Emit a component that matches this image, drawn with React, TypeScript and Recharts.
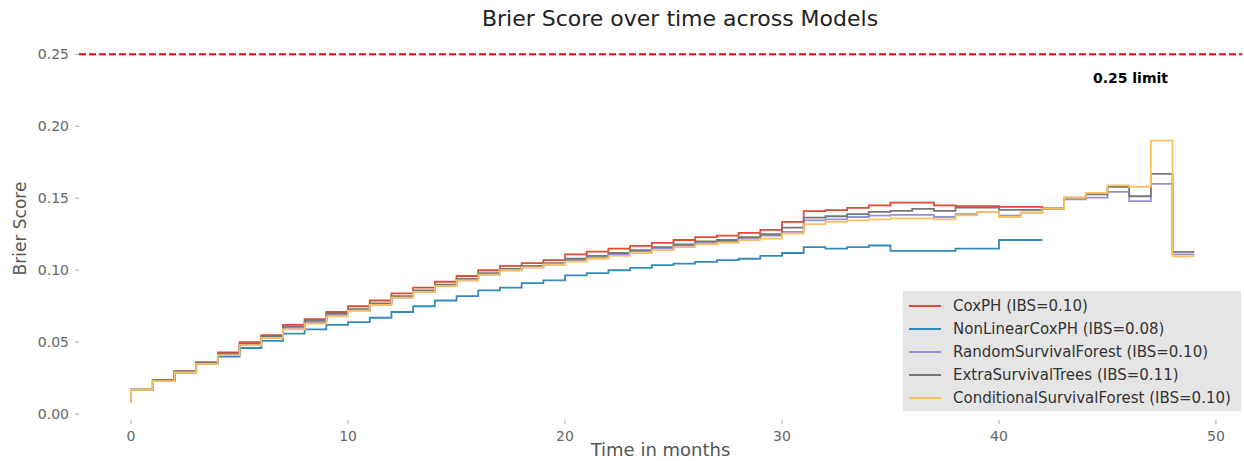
import React from "react";
import {
  Legend,
  Line,
  LineChart,
  ReferenceLine,
  XAxis,
  YAxis,
} from "recharts";

// month index, 0..49
const months = [
  0, 1, 2, 3, 4, 5, 6, 7, 8, 9, 10, 11, 12, 13, 14, 15, 16, 17, 18, 19, 20, 21,
  22, 23, 24, 25, 26, 27, 28, 29, 30, 31, 32, 33, 34, 35, 36, 37, 38, 39, 40,
  41, 42, 43, 44, 45, 46, 47, 48, 49,
];

const coxPH = [
  0.008, 0.017, 0.0236, 0.03, 0.036, 0.043, 0.05, 0.055, 0.062, 0.066,
  0.071, 0.075, 0.079, 0.084, 0.088, 0.092, 0.096, 0.1, 0.103, 0.105,
  0.107, 0.111, 0.113, 0.115, 0.117, 0.119, 0.121, 0.123, 0.124, 0.126,
  0.128, 0.1336, 0.141, 0.1417, 0.1433, 0.1451, 0.147, 0.147, 0.145, 0.1445,
  0.1445, 0.144, 0.144, 0.143, null, null, null, null, null, null,
];

const nonLinearCoxPH = [
  0.008, 0.017, 0.023, 0.029, 0.035, 0.04, 0.046, 0.051, 0.056, 0.059,
  0.062, 0.064, 0.067, 0.071, 0.075, 0.079, 0.082, 0.086, 0.088, 0.091,
  0.093, 0.0965, 0.098, 0.1, 0.1016, 0.1035, 0.1046, 0.1058, 0.107, 0.108,
  0.11, 0.112, 0.116, 0.115, 0.116, 0.1172, 0.1135, 0.1135, 0.1135, 0.115,
  0.115, 0.121, 0.121, null, null, null, null, null, null, null,
];

const randomSurvivalForest = [
  0.008, 0.017, 0.023, 0.029, 0.035, 0.041, 0.048, 0.053, 0.06, 0.064,
  0.069, 0.072, 0.076, 0.081, 0.085, 0.089, 0.093, 0.097, 0.1, 0.102,
  0.104, 0.107, 0.109, 0.111, 0.113, 0.115, 0.117, 0.119, 0.12, 0.122,
  0.124, 0.1266, 0.1347, 0.1354, 0.137, 0.138, 0.1385, 0.1385, 0.137, 0.139,
  0.1405, 0.138, 0.14, 0.1425, 0.1493, 0.1505, 0.1544, 0.148, 0.16, 0.111,
];

const extraSurvivalTrees = [
  0.008, 0.017, 0.0236, 0.03, 0.036, 0.042, 0.049, 0.054, 0.061, 0.065,
  0.07, 0.073, 0.077, 0.082, 0.086, 0.09, 0.094, 0.098, 0.101, 0.103,
  0.105, 0.108, 0.11, 0.112, 0.114, 0.116, 0.118, 0.12, 0.121, 0.123,
  0.125, 0.1296, 0.1366, 0.1375, 0.139, 0.1405, 0.1412, 0.1426, 0.1412, 0.1435,
  0.1435, 0.142, 0.142, 0.1428, 0.1505, 0.1528, 0.158, 0.1514, 0.167, 0.1127,
];

const conditionalSurvivalForest = [
  0.008, 0.017, 0.023, 0.029, 0.035, 0.041, 0.048, 0.053, 0.059, 0.063,
  0.068, 0.072, 0.076, 0.081, 0.085, 0.089, 0.093, 0.097, 0.1, 0.102,
  0.104, 0.106, 0.108, 0.11, 0.112, 0.114, 0.116, 0.118, 0.119, 0.121,
  0.122, 0.1255, 0.132, 0.1336, 0.1347, 0.1354, 0.136, 0.136, 0.1354, 0.1382,
  0.1405, 0.137, 0.14, 0.1428, 0.1505, 0.1537, 0.159, 0.158, 0.19, 0.1097,
];

const xTicks = [0, 10, 20, 30, 40, 50];
const yTicks = [0, 0.05, 0.1, 0.15, 0.2, 0.25];

const series = [
  { key: "cox", name: "CoxPH (IBS=0.10)", color: "#E24A33" },
  { key: "nlcox", name: "NonLinearCoxPH (IBS=0.08)", color: "#348ABD" },
  { key: "rsf", name: "RandomSurvivalForest (IBS=0.10)", color: "#988ED5" },
  { key: "est", name: "ExtraSurvivalTrees (IBS=0.11)", color: "#777777" },
  { key: "csf", name: "ConditionalSurvivalForest (IBS=0.10)", color: "#FBC15E" },
];

const rows = months.map((t, i) => ({
  t,
  cox: coxPH[i],
  nlcox: nonLinearCoxPH[i],
  rsf: randomSurvivalForest[i],
  est: extraSurvivalTrees[i],
  csf: conditionalSurvivalForest[i],
}));

const FONT = "'DejaVu Sans', sans-serif";

function LegendBox() {
  return (
    <div
      style={{
        background: "#e5e5e5",
        width: 338,
        height: 120,
        boxSizing: "border-box",
        padding: "3px 0 0 6px",
        fontFamily: FONT,
        fontSize: 15,
        color: "#333",
      }}
    >
      {series.map((s) => (
        <div
          key={s.key}
          style={{ display: "flex", alignItems: "center", height: 23 }}
        >
          <span
            style={{
              display: "inline-block",
              width: 32,
              height: 2,
              background: s.color,
              marginRight: 12,
            }}
          />
          <span style={{ whiteSpace: "nowrap" }}>{s.name}</span>
        </div>
      ))}
    </div>
  );
}

export default function App() {
  return (
    <div
      style={{
        position: "absolute",
        left: 0,
        top: 0,
        width: 1244,
        height: 461,
        background: "#fff",
        fontFamily: FONT,
      }}
    >
      <div
        style={{
          position: "absolute",
          left: 0,
          width: 1360,
          top: 6,
          textAlign: "center",
          fontSize: 22,
          color: "#222",
        }}
      >
        Brier Score over time across Models
      </div>
      <LineChart
        width={1244}
        height={461}
        data={rows}
        margin={{ top: 37, right: 2, left: 0, bottom: 16 }}
      >
        <XAxis
          dataKey="t"
          type="number"
          domain={[-2.4, 51.2]}
          ticks={xTicks}
          allowDataOverflow
          axisLine={false}
          tickSize={4}
          tickMargin={7}
          tickLine={{ stroke: "#aaa" }}
          tick={{ fill: "#666", fontSize: 14, fontFamily: FONT }}
          height={25}
          label={{
            value: "Time in months",
            position: "bottom",
            offset: -2,
            fill: "#555",
            fontSize: 18,
            fontFamily: FONT,
          }}
        />
        <YAxis
          type="number"
          domain={[-0.004, 0.262]}
          ticks={yTicks}
          allowDataOverflow
          axisLine={false}
          tickSize={4}
          tickMargin={6}
          tickLine={{ stroke: "#aaa" }}
          tick={{ fill: "#666", fontSize: 14, fontFamily: FONT }}
          tickFormatter={(v: number) => v.toFixed(2)}
          width={79}
          label={{
            content: (p: any) => {
              const vb = p.viewBox;
              const cx = 20;
              const cy = vb.y + vb.height / 2;
              return (
                <text
                  x={cx}
                  y={cy}
                  transform={`rotate(-90 ${cx} ${cy})`}
                  textAnchor="middle"
                  dominantBaseline="central"
                  fill="#555"
                  fontSize={17}
                  fontFamily={FONT}
                >
                  Brier Score
                </text>
              );
            },
          }}
        />
        <ReferenceLine
          y={0.25}
          stroke="#ff0000"
          strokeWidth={2}
          strokeDasharray="7 3"
          label={{
            content: (p: any) => {
              const vb = p.viewBox;
              return (
                <text
                  x={vb.x + vb.width - 74}
                  y={vb.y + 29}
                  textAnchor="end"
                  fill="#000"
                  fontSize={14}
                  fontWeight="bold"
                  fontFamily={FONT}
                >
                  0.25 limit
                </text>
              );
            },
          }}
        />
        {series.map((s) => (
          <Line
            key={s.key}
            dataKey={s.key}
            name={s.name}
            type="stepBefore"
            stroke={s.color}
            strokeWidth={1.8}
            dot={false}
            activeDot={false}
            connectNulls={false}
            isAnimationActive={false}
          />
        ))}
        <Legend
          layout="vertical"
          align="center"
          verticalAlign="middle"
          wrapperStyle={{ left: 903, top: 291, width: 338, height: 120 }}
          content={() => <LegendBox />}
        />
      </LineChart>
    </div>
  );
}
